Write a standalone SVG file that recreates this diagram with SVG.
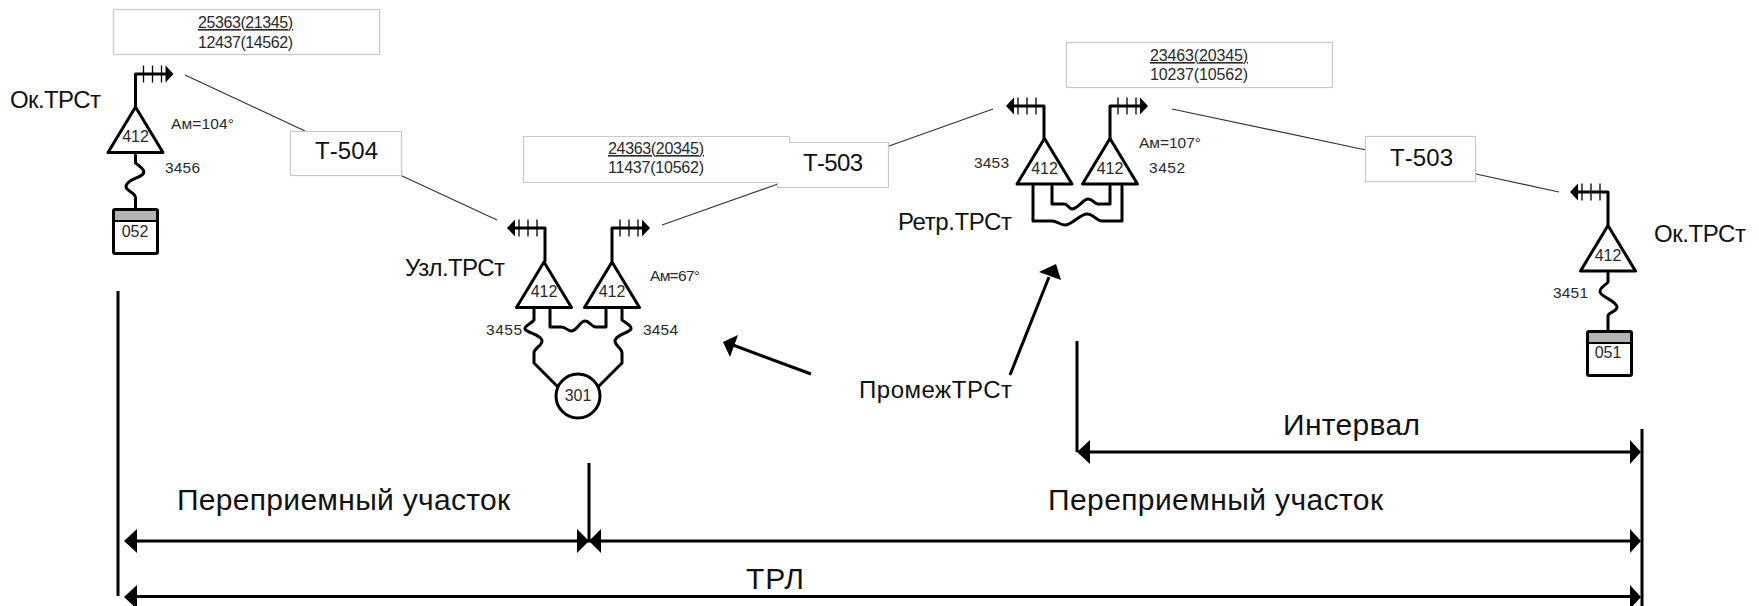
<svg xmlns="http://www.w3.org/2000/svg" xmlns:xlink="http://www.w3.org/1999/xlink" width="1759" height="606" viewBox="0 0 1759 606">
<style>
text{font-family:"Liberation Sans",Arial,sans-serif;fill:#2a2a2a}
.s{font-size:15.5px}.n{font-size:16px}.b{font-size:16px}.u{text-decoration:underline}
.t{font-size:24px;fill:#111}.l{font-size:24px;fill:#111}.h{font-size:30px;fill:#111}
.m{text-anchor:middle}
.box{fill:#fff;stroke:#c9c9c9;stroke-width:1.2}
.w{fill:none;stroke:#000;stroke-width:3;stroke-linejoin:round;stroke-linecap:round}
.tri{fill:#fff;stroke:#000;stroke-width:3;stroke-linejoin:round}
.thin{fill:none;stroke:#333;stroke-width:1.2}
.dim{fill:none;stroke:#000;stroke-width:3}
.tick{stroke:#000;stroke-width:1.3}
</style>
<defs>
<g id="ant">
<path class="w" d="M0 33V0H30"/>
<path d="M30-8.500L38 0L30 8.500Z" fill="#000"/>
<path class="tick" d="M8-8.500V8.500M17-8.500V8.500M26-8.500V8.500"/>
</g>
<g id="tr">
<path class="tri" d="M0 0L27.500 45.500H-27.500Z"/>
<text class="n m" y="35">412</text>
</g>
<g id="cab">
<rect x="1.500" y="1.500" width="44" height="44" rx="1.500" fill="#fff" stroke="#000" stroke-width="3"/>
<rect x="3" y="3" width="41" height="9" fill="#b3b3b3"/>
<path d="M3 13H44" stroke="#000" stroke-width="2"/>
</g>
</defs>

<g id="connectors">
<path class="thin" d="M185 75L305 131M400 175L497 220M662 225L778 184M889 146L993 109M1172 109L1366 150M1476 174L1559 192"/>
<path class="w" d="M135.500 155V163C140 167 146 170 143 174C140 178 128 179 126 186C125 191 135.500 192 135.500 198V208"/>
<path class="w" d="M534 308V320C531 324 524 326 525 329C527 333 542 335 542 341C542 346 534 348 534 353V363L557 386"/>
<path class="w" d="M622 308V320C625 323 632 325 631 329C629 333 615 335 615 341C615 346 622 348 622 353V363L599 386"/>
<path class="w" d="M550 308V327H561C566 327 568 331 571 331C577 331 580 321 585 321C590 321 591 327 596 327H606V308"/>
<path class="w" d="M1052 186V204H1064C1068 204 1069 209 1072 209C1078 209 1083 199 1088 199C1093 199 1094 204 1098 204H1110V186"/>
<path class="w" d="M1033 186V221H1052C1057 221 1060 225 1065 225C1072 225 1080 214 1087 214C1094 214 1096 221 1102 221H1122V186"/>
<path class="w" d="M1608 273V282C1606 285 1599 288 1600 292C1601 297 1617 301 1617 307C1617 312 1608 312 1608 316V330"/>
<path class="dim" d="M811 374L733 345"/><path d="M723 342L738 335L730 357Z" fill="#000"/>
<path class="dim" d="M1010 375L1049 277"/><path d="M1039 272L1056 264L1061 280Z" fill="#000"/>
<path class="dim" d="M118 291V596M589 463V541M1077 341V452M1642 429V606"/>
<path class="dim" d="M130 541H1636M130 596.500H1636M1084 452H1636"/>
<g fill="#000">
<path d="M124 541L137 529V553Z"/><path d="M124 597L137 585V609Z"/>
<path d="M589 541L577 529V553Z"/><path d="M589 541L601 529V553Z"/>
<path d="M1077 452L1090 440V464Z"/>
<path d="M1641 452L1630 440V464Z"/><path d="M1641 541L1630 529V553Z"/><path d="M1641 597L1630 585V609Z"/>
</g>
</g>

<g id="label-box-1"><rect class="box" x="113.500" y="9.500" width="266" height="45"/>
<text class="b u" x="198" y="28" textLength="95">25363(21345)</text><text class="b" x="198" y="47.500" textLength="95">12437(14562)</text></g>
<g id="label-t504"><rect class="box" x="290.500" y="131.500" width="111" height="44"/><text class="t" x="315" y="159" textLength="63">Т-504</text></g>
<g id="label-box-2"><path class="box" d="M523.500 136.500H789.500V142.500H888.500V187.500H777.500V182.500H523.500Z"/>
<text class="b u" x="608" y="154" textLength="96">24363(20345)</text><text class="b" x="608" y="173" textLength="96">11437(10562)</text>
<text class="t" x="803" y="171" textLength="60">Т-503</text></g>
<g id="label-box-3"><rect class="box" x="1066.500" y="42.500" width="266" height="45"/>
<text class="b u" x="1150" y="61" textLength="98">23463(20345)</text><text class="b" x="1150" y="80" textLength="98">10237(10562)</text></g>
<g id="label-t503"><rect class="box" x="1365.500" y="136.500" width="110" height="45"/><text class="t" x="1390" y="166" textLength="63">Т-503</text></g>

<g id="node-ok-left">
<use xlink:href="#ant" href="#ant" transform="translate(135.500 74)"/>
<use xlink:href="#tr" href="#tr" transform="translate(135.500 107)"/>
<use xlink:href="#cab" href="#cab" x="112" y="208"/>
<text class="n m" x="135" y="237">052</text>
<text class="l" x="10" y="108" textLength="91">Ок.ТРСт</text>
<text class="s" x="171" y="129" textLength="63">Ам=104°</text>
<text class="s" x="165" y="173" textLength="35">3456</text>
</g>
<g id="node-uzl">
<use xlink:href="#ant" href="#ant" transform="translate(545 228) scale(-1 1)"/>
<use xlink:href="#ant" href="#ant" transform="translate(612 228)"/>
<use xlink:href="#tr" href="#tr" transform="translate(544 262)"/>
<use xlink:href="#tr" href="#tr" transform="translate(612 262)"/>
<circle cx="578" cy="396" r="22" fill="#fff" stroke="#000" stroke-width="3"/>
<text class="n m" x="578" y="401">301</text>
<text class="l" x="405" y="276" textLength="100">Узл.ТРСт</text>
<text class="s" x="650" y="281" textLength="50">Ам=67°</text>
<text class="s" x="486" y="335" textLength="36">3455</text>
<text class="s" x="643" y="335" textLength="35">3454</text>
</g>
<g id="node-retr">
<use xlink:href="#ant" href="#ant" transform="translate(1044 106) scale(-1 1)"/>
<use xlink:href="#ant" href="#ant" transform="translate(1110 106)"/>
<use xlink:href="#tr" href="#tr" transform="translate(1044.500 138.500)"/>
<use xlink:href="#tr" href="#tr" transform="translate(1110 138.500)"/>
<text class="l" x="898" y="230" textLength="114">Ретр.ТРСт</text>
<text class="s" x="1139" y="148" textLength="62">Ам=107°</text>
<text class="s" x="974" y="168" textLength="35">3453</text>
<text class="s" x="1149" y="173" textLength="36">3452</text>
</g>
<g id="node-ok-right">
<use xlink:href="#ant" href="#ant" transform="translate(1608 192) scale(-1 1)"/>
<use xlink:href="#tr" href="#tr" transform="translate(1608 225.500)"/>
<use xlink:href="#cab" href="#cab" x="1586" y="330"/>
<text class="n m" x="1608" y="358">051</text>
<text class="l" x="1654" y="242" textLength="92">Ок.ТРСт</text>
<text class="s" x="1553" y="298" textLength="35">3451</text>
</g>
<g id="captions">
<text class="l" x="859" y="398" textLength="153">ПромежТРСт</text>
<text class="h" x="1283" y="435" textLength="137">Интервал</text>
<text class="h" x="177" y="510" textLength="333">Переприемный участок</text>
<text class="h" x="1048" y="510" textLength="335">Переприемный участок</text>
<text class="h" x="746" y="589" textLength="58">ТРЛ</text>
</g>
</svg>
